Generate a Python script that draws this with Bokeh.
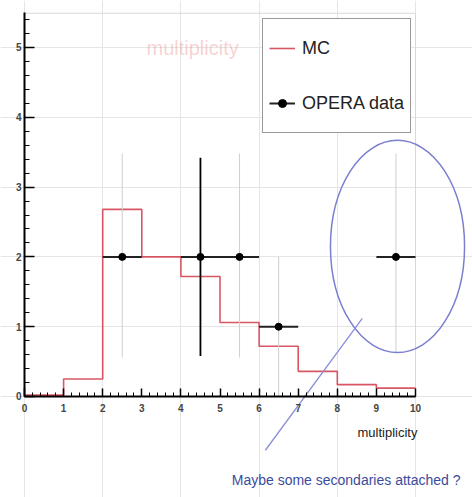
import numpy as np
from bokeh.plotting import figure
from bokeh.models import (Range1d, LinearAxis, SingleIntervalTicker, Legend, LegendItem)
from bokeh.core.properties import value
from bokeh.embed import file_html
from bokeh.resources import INLINE

# ---- data ----
mc_edges = [0, 1, 2, 3, 4, 5, 6, 7, 8, 9, 10]
mc_values = [0.02, 0.25, 2.68, 2.0, 1.72, 1.06, 0.72, 0.36, 0.17, 0.12]

data_x = [2.5, 4.5, 5.5, 6.5, 9.5]
data_y = [2, 2, 2, 1, 2]
data_xerr = [0.5, 0.5, 0.5, 0.5, 0.5]
data_ylow = [0.56, 0.58, 0.56, 0.0, 0.62]
data_yhigh = [3.48, 3.42, 3.48, 2.0, 3.48]

# ---- layout constants ----
W, H = 472, 497
FONT = "Liberation Sans"

p = figure(width=W, height=H, output_backend="svg", toolbar_location=None,
           x_axis_location=None, y_axis_location=None,
           x_range=Range1d(-0.614, 11.458), y_range=Range1d(-1.447, 5.673),
           min_border=0, outline_line_color=None)
p.background_fill_color = "white"
p.border_fill_color = "white"

# frame (light)
p.quad(left=[0], right=[10], bottom=[0], top=[5.49], fill_color=None,
       line_color="#d8d8d8", line_width=1)

# axes placed at data zero
xax = LinearAxis(fixed_location=0, bounds=(0, 10),
                 ticker=SingleIntervalTicker(interval=1, num_minor_ticks=5))
xax.major_tick_in = 8
xax.major_tick_out = 0
xax.minor_tick_in = 4
xax.minor_tick_out = 0
xax.axis_line_width = 2
xax.major_tick_line_width = 1.5
xax.major_label_text_font = FONT
xax.major_label_text_font_size = "10px"
xax.major_label_text_font_style = "bold"
xax.major_label_standoff = 8
p.add_layout(xax, "below")

yax = LinearAxis(fixed_location=0, bounds=(0, 5.5),
                 ticker=SingleIntervalTicker(interval=1, num_minor_ticks=5))
yax.major_tick_in = 10
yax.major_tick_out = 0
yax.minor_tick_in = 5
yax.minor_tick_out = 0
yax.axis_line_width = 2
yax.major_tick_line_width = 1.5
yax.major_label_text_font = FONT
yax.major_label_text_font_size = "10px"
yax.major_label_text_font_style = "bold"
yax.major_label_standoff = 3
p.add_layout(yax, "left")

# MC histogram
step_y = list(mc_values) + [mc_values[-1]]
mc_r = p.step(x=mc_edges, y=step_y, mode="after", line_color="#d23a4a",
              line_width=1.6, line_alpha=0.85)

# data vertical errors
vcol = ["black" if i == 1 else "#cfcfcf" for i in range(len(data_x))]
vw = [1.8 if i == 1 else 1.0 for i in range(len(data_x))]
p.segment(x0=data_x, y0=data_ylow, x1=data_x, y1=data_yhigh, line_color=vcol,
          line_width=vw)
# horizontal errors
x0 = [x - e for x, e in zip(data_x, data_xerr)]
x1 = [x + e for x, e in zip(data_x, data_xerr)]
hr = p.segment(x0=x0, y0=data_y, x1=x1, y1=data_y, line_color="#222222", line_width=2)
sr = p.scatter(x=data_x, y=data_y, size=7, marker="circle", fill_color="black",
               line_color="black")

# faint title
p.text(x=[4.3], y=[4.99], text=["multiplicity"], text_font=value(FONT),
       text_font_size="20px", text_color="#ee9c9c", text_alpha=0.45,
       text_align="center", text_baseline="middle")

# axis title
p.text(x=[10.05], y=[-0.52], text=["multiplicity"], text_font=value(FONT),
       text_font_size="13px", text_color="#222222", text_align="right",
       text_baseline="middle")

# annotation: ellipse, line, text
p.ellipse(x=[9.54], y=[2.15], width=[3.43], height=[3.04], fill_color=None,
          line_color="#7a7fd0", line_width=1.5)
p.segment(x0=[6.16], y0=[-0.77], x1=[8.64], y1=[1.12], line_color="#8a8fd8",
          line_width=1.3)
p.text(x=[5.3], y=[-1.19], text=["Maybe some secondaries attached ?"],
       text_font=value(FONT), text_font_size="14px", text_color="#3c4c9c",
       text_align="left", text_baseline="middle")

legend = Legend(items=[LegendItem(label="MC", renderers=[mc_r]),
                       LegendItem(label="OPERA data", renderers=[hr, sr])],
                location=(262, 364))
legend.label_text_font = FONT
legend.label_text_font_size = "18px"
legend.label_text_color = "#222222"
legend.glyph_width = 26
legend.glyph_height = 20
legend.label_height = 46
legend.label_standoff = 7
legend.spacing = 9
legend.padding = 6
legend.margin = 0
legend.border_line_color = "#333333"
legend.border_line_width = 1.5
legend.background_fill_color = "white"
legend.background_fill_alpha = 1
p.add_layout(legend)

open("out.html", "w").write(file_html(p, INLINE))
